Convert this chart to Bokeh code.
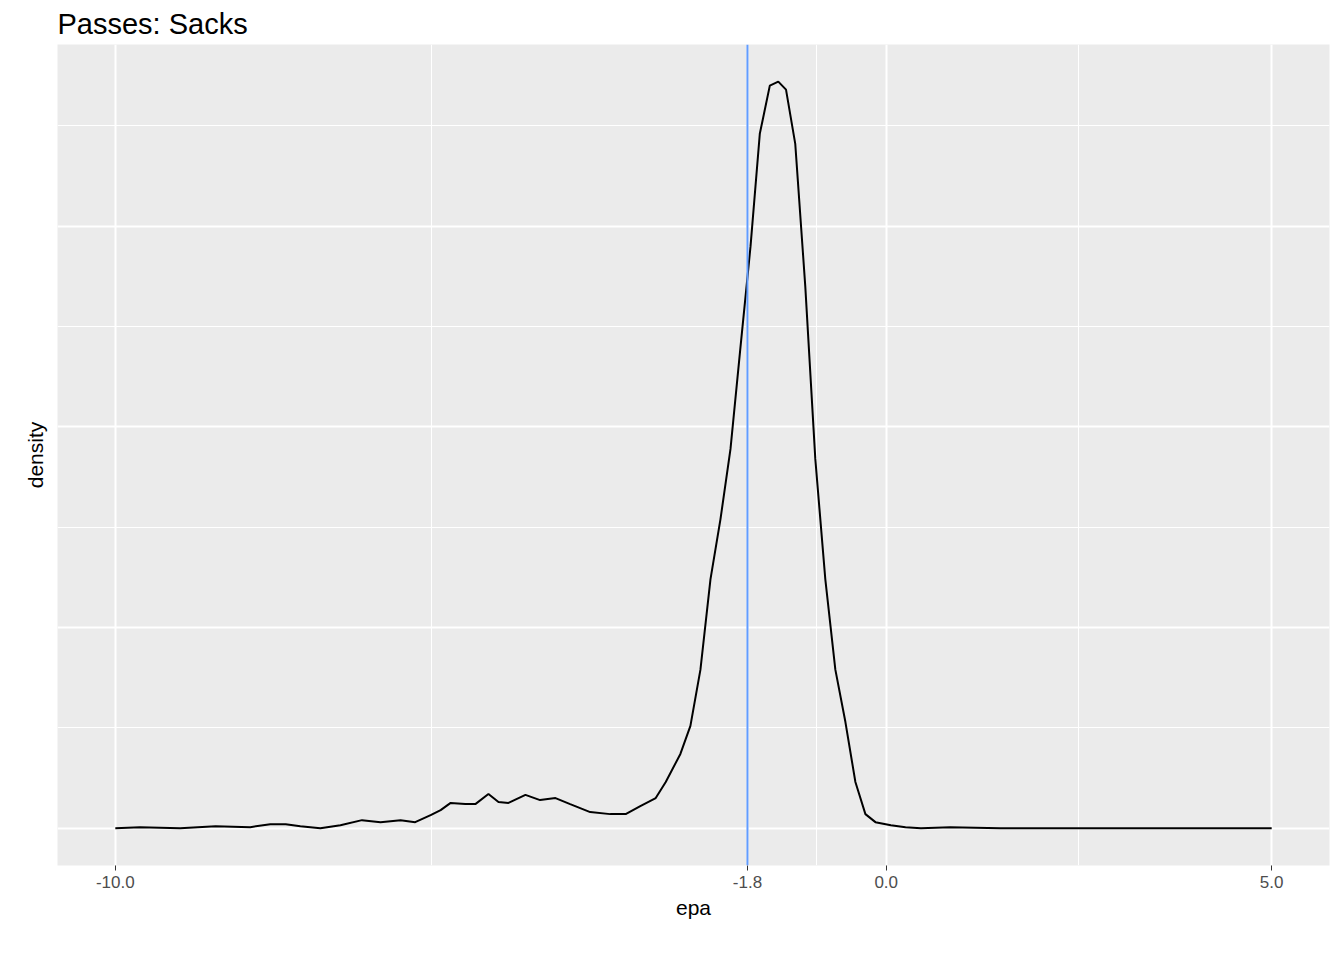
from bokeh.plotting import figure
from bokeh.models import Span, FixedTicker, Range1d
from bokeh.embed import file_html
from bokeh.resources import INLINE

epa = [-10.00,-9.68,-9.16,-8.70,-8.25,-7.99,-7.79,-7.60,-7.34,-7.08,-6.80,-6.56,-6.30,-6.11,-5.91,-5.78,-5.65,-5.46,-5.33,-5.16,-5.03,-4.90,-4.68,-4.49,-4.29,-4.10,-3.84,-3.58,-3.38,-3.19,-2.99,-2.86,-2.67,-2.54,-2.41,-2.28,-2.15,-2.02,-1.89,-1.76,-1.64,-1.51,-1.40,-1.30,-1.18,-1.05,-0.92,-0.79,-0.66,-0.53,-0.40,-0.27,-0.14,0.06,0.25,0.45,0.83,1.48,5.00]
density = [0,0.0005,0,0.001,0.0005,0.002,0.002,0.001,0,0.0015,0.004,0.003,0.004,0.003,0.0065,0.009,0.0126,0.012,0.012,0.017,0.013,0.0126,0.0166,0.014,0.015,0.012,0.008,0.007,0.007,0.011,0.015,0.023,0.037,0.051,0.079,0.124,0.154,0.189,0.240,0.290,0.346,0.370,0.372,0.368,0.341,0.270,0.184,0.124,0.079,0.053,0.023,0.007,0.003,0.0015,0.0005,0,0.0005,0,0]
mean_epa = -1.8
x_ticks = [-10.0, -1.8, 0.0, 5.0]
x_labels = {-10.0: "-10.0", -1.8: "-1.8", 0.0: "0.0", 5.0: "5.0"}

p = figure(width=1336, height=944, output_backend="svg", toolbar_location=None,
           title="Passes: Sacks", x_range=Range1d(-10.75, 5.75), y_range=Range1d(-0.0186, 0.3905),
           min_border_left=57, min_border_right=7, min_border_bottom=79, min_border_top=28)
p.title.text_font = "Liberation Sans"
p.title.text_font_size = "29px"
p.title.text_font_style = "normal"
p.title.text_color = "black"
p.title.offset = 0
p.background_fill_color = "#EBEBEB"
p.border_fill_color = "white"
p.outline_line_color = None

p.xaxis.ticker = FixedTicker(ticks=x_ticks, minor_ticks=[-5.9, -0.9, 2.5])
p.xaxis.major_label_overrides = x_labels
p.yaxis.ticker = FixedTicker(ticks=[0, 0.1, 0.2, 0.3], minor_ticks=[0.05, 0.15, 0.25, 0.35])
p.yaxis.major_label_text_font_size = "0px"
p.yaxis.major_tick_line_color = None
for ax in (p.xaxis[0], p.yaxis[0]):
    ax.axis_line_color = None
    ax.minor_tick_line_color = None
    ax.major_label_text_font = "Liberation Sans"
    ax.axis_label_text_font = "Liberation Sans"
    ax.axis_label_text_font_style = "normal"
    ax.axis_label_text_font_size = "21px"
    ax.axis_label_text_color = "black"
p.xaxis.major_tick_line_color = "#333333"
p.xaxis.major_tick_out = 5
p.xaxis.major_tick_in = 0
p.xaxis.major_label_text_font_size = "17px"
p.xaxis.major_label_text_color = "#4D4D4D"
p.xaxis.axis_label = "epa"
p.yaxis.axis_label = "density"

for g in (p.xgrid[0], p.ygrid[0]):
    g.grid_line_color = "white"
    g.grid_line_width = 2
    g.minor_grid_line_color = "white"
    g.minor_grid_line_width = 1

p.line(epa, density, line_color="black", line_width=2)
p.add_layout(Span(location=mean_epa, dimension="height", line_color="#619CFF", line_width=2))

open("out.html", "w").write(file_html(p, INLINE))
